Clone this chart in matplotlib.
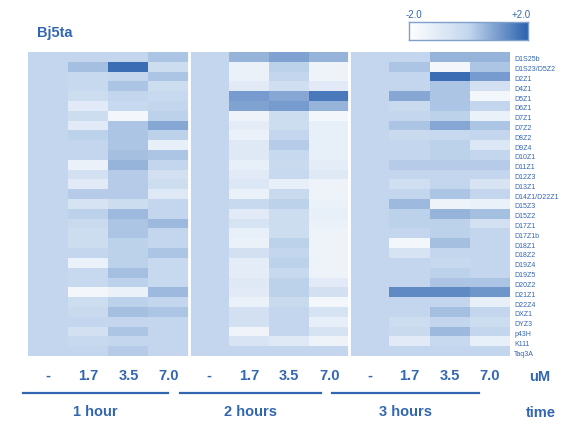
import numpy as np
import matplotlib
matplotlib.use("Agg")
import matplotlib.pyplot as plt
from matplotlib.colors import LinearSegmentedColormap

plt.rcParams['font.family'] = ['Liberation Sans', 'DejaVu Sans']

probes = ["D1S25b", "D1S23/D5Z2", "D2Z1", "D4Z1", "D5Z1", "D6Z1", "D7Z1",
          "D7Z2", "D8Z2", "D9Z4", "D10Z1", "D11Z1", "D12Z3", "D13Z1",
          "D14Z1/D22Z1", "D15Z3", "D15Z2", "D17Z1", "D17Z1b", "D18Z1",
          "D18Z2", "D19Z4", "D19Z5", "D20Z2", "D21Z1", "D22Z4", "DXZ1",
          "DYZ3", "p43H", "K111", "Taq3A"]
doses = ["-", "1.7", "3.5", "7.0"]
times = ["1 hour", "2 hours", "3 hours"]

# log ratios vs untreated, columns 1.7 / 3.5 / 7.0 uM
hour1 = [[0.0, 0.0, 0.3], [0.4, 1.8, -0.3], [-0.1, 0.0, 0.3], [-0.1, 0.3, -0.3],
         [-0.3, 0.0, -0.1], [-1.0, -0.1, 0.0], [-0.3, -1.6, 0.1], [-1.0, 0.3, 0.8],
         [0.1, 0.3, 0.1], [0.0, 0.3, -1.2], [0.0, 0.4, 0.3], [-1.3, 0.6, 0.0],
         [-0.5, 0.2, -0.5], [-1.0, 0.2, -0.3], [0.2, 0.2, -0.9], [-0.6, -0.3, 0.0],
         [0.1, 0.5, 0.0], [-0.2, 0.3, 0.5], [-0.3, 0.3, 0.0], [-0.3, 0.1, 0.0],
         [0.0, 0.1, 0.3], [-1.3, 0.1, -0.1], [-0.1, 0.4, -0.1], [-0.1, 0.1, -0.1],
         [-1.6, -1.3, 0.5], [-0.3, 0.1, 0.0], [-0.2, 0.4, 0.3], [0.0, 0.0, 0.0],
         [-0.5, 0.3, 0.0], [-0.1, 0.0, 0.0], [0.0, 0.2, 0.0]]
hour2 = [[0.6, 0.9, 0.6], [-1.3, 0.1, -1.4], [-1.3, 0.0, -1.4], [-1.0, -0.4, -1.0],
         [1.0, 0.8, 1.6], [0.9, 1.0, 0.6], [-1.4, -0.3, -1.6], [-1.1, -0.3, -1.2],
         [-1.3, 0.0, -1.2], [-0.9, 0.2, -1.2], [-0.9, -0.1, -1.2], [-1.2, -0.2, -1.1],
         [-1.0, -0.1, -0.9], [-0.8, -1.2, -1.4], [-1.3, -0.2, -1.4], [-0.1, 0.1, -1.3],
         [-1.0, -0.3, -1.2], [-0.6, -0.3, -1.3], [-1.2, -0.3, -1.4], [-1.3, 0.1, -1.4],
         [-0.5, 0.0, -1.4], [-1.1, 0.1, -1.4], [-1.1, -0.1, -1.4], [-0.9, 0.1, -1.0],
         [-1.0, 0.1, -0.5], [-1.3, -0.2, -1.6], [-0.5, 0.0, -0.6], [-0.5, 0.0, -1.2],
         [-1.5, 0.0, -0.6], [-0.7, -0.9, -1.4], [0.0, 0.0, 0.0]]
hour3 = [[0.0, 0.6, 0.6], [0.3, -1.6, 0.3], [0.0, 1.8, 1.0], [0.0, 0.3, -0.5],
         [0.8, 0.3, -1.6], [-0.2, 0.3, 0.0], [0.0, 0.1, -1.3], [0.3, 0.8, 0.3],
         [-0.2, -0.1, 0.0], [0.0, 0.1, -0.8], [0.0, 0.1, 0.0], [0.2, 0.2, 0.2],
         [0.0, 0.0, 0.0], [-0.4, 0.0, -0.7], [0.0, 0.3, 0.0], [0.5, -1.4, -1.3],
         [0.1, 0.6, 0.4], [0.1, 0.1, -0.5], [0.0, 0.1, 0.0], [-1.6, 0.4, 0.0],
         [-0.6, 0.0, 0.0], [0.0, -0.1, 0.0], [0.0, 0.1, 0.0], [0.0, 0.3, 0.3],
         [1.3, 1.3, 1.1], [0.0, 0.0, -1.2], [0.0, 0.4, 0.0], [-0.3, 0.0, -0.3],
         [-0.2, 0.5, 0.0], [-1.0, -0.1, -1.2], [0.0, 0.0, 0.0]]

blue = '#3366B0'
cmap = LinearSegmentedColormap.from_list('wb', ['#FFFFFF', '#C4D7EE', '#2C62AF'])

blocks = []
for h in (hour1, hour2, hour3):
    h = np.array(h)
    blocks.append(np.column_stack([np.zeros(len(h)), h]))
mat = np.hstack(blocks)

W, H = 564, 424
fig = plt.figure(figsize=(W / 100, H / 100), dpi=100)

def fx(px):
    return px / W

def fy(py):
    return 1 - py / H

ax = fig.add_axes([fx(28), fy(356), fx(510) - fx(28), fy(52) - fy(356)])
ax.imshow(mat, cmap=cmap, vmin=-2, vmax=2, aspect='auto', interpolation='nearest')
for b in (3.5, 7.5):
    ax.axvline(b, color='white', lw=2)
ax.set_xticks([])
ax.set_yticks([])
for s in ax.spines.values():
    s.set_visible(False)

# probe names on the right
for i, name in enumerate(probes):
    ax.text(11.6, i + 0.3, name, fontsize=5, color=blue, va='center', ha='left')

# dose labels and time groups
ncol = mat.shape[1]
for j in range(ncol):
    x = ax.transData.transform((j, 0))[0]
    fig.text(x / fig.bbox.width, fy(376), doses[j % 4], fontsize=10.5,
             fontweight='bold', color=blue, ha='center', va='center')
fig.text(fx(540), fy(377), "uM", fontsize=10.5, fontweight='bold',
         color=blue, ha='center', va='center')

lines_x = [(23, 168), (180, 321), (332, 479)]
for (x0, x1), t in zip(lines_x, times):
    fig.add_artist(plt.Line2D([fx(x0), fx(x1)], [fy(393), fy(393)],
                              color=blue, lw=1.6))
    fig.text(fx((x0 + x1) / 2), fy(412), t, fontsize=10.5, fontweight='bold',
             color=blue, ha='center', va='center')
fig.text(fx(541), fy(413), "time", fontsize=10.5, fontweight='bold',
         color=blue, ha='center', va='center')

fig.text(fx(37), fy(33), "Bj5ta", fontsize=10.5, fontweight='bold',
         color=blue, ha='left', va='center')

# colour scale
cax = fig.add_axes([fx(409), fy(40), fx(528) - fx(409), fy(22) - fy(40)])
cax.imshow(np.linspace(-2, 2, 256)[None, :], cmap=cmap, vmin=-2, vmax=2,
           aspect='auto', extent=[-2, 2, 0, 1])
cax.set_xticks([])
cax.set_yticks([])
for s in cax.spines.values():
    s.set_color('#7F9FCC')
    s.set_linewidth(1)
fig.text(fx(414), fy(15), "-2.0", fontsize=7, color=blue, ha='center', va='center')
fig.text(fx(521), fy(15), "+2.0", fontsize=7, color=blue, ha='center', va='center')

fig.savefig("out.png", dpi=100)
